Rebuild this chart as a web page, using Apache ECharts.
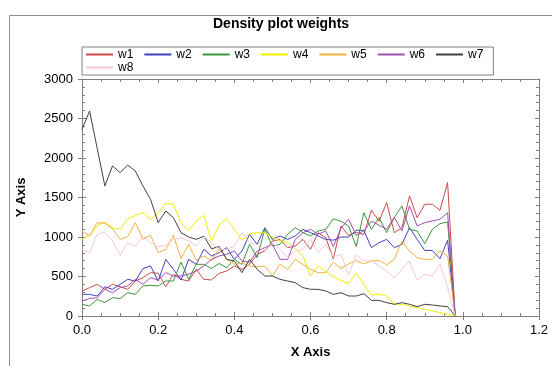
<!DOCTYPE html>
<html>
<head>
<meta charset="utf-8">
<script src="https://cdn.jsdelivr.net/npm/echarts@6/dist/echarts.min.js"></script>
<style>
  html, body { margin: 0; padding: 0; background: #fff; }
  #chart { width: 552px; height: 366px; }
</style>
</head>
<body>
<div id="chart"></div>
<script>
// x positions of the density estimate (step 0.02)
const xs = [0.00,0.02,0.04,0.06,0.08,0.10,0.12,0.14,0.16,0.18,0.20,0.22,0.24,0.26,0.28,0.30,0.32,0.34,0.36,0.38,
  0.40,0.42,0.44,0.46,0.48,0.50,0.52,0.54,0.56,0.58,0.60,0.62,0.64,0.66,0.68,0.70,0.72,0.74,0.76,0.78,
  0.80,0.82,0.84,0.86,0.88,0.90,0.92,0.94,0.96,0.98];

const w1 = [316,359,401,338,401,371,338,443,485,549,540,371,528,464,443,591,464,456,540,570,633,591,654,780,823,949,970,865,886,970,844,1055,992,725,1139,1020,1060,1030,1340,1200,1435,1055,1118,1520,1245,1414,1414,1338,1688,0];
const w2 = [274,274,253,371,338,401,464,443,600,633,443,717,591,456,717,654,844,760,802,865,717,823,1034,907,1118,970,1013,970,1013,1097,1055,1013,970,960,1000,1000,1085,1085,865,928,970,865,907,1118,970,830,830,726,958,0];
const w3 = [148,127,211,169,232,221,295,274,380,388,380,443,443,684,464,654,654,600,665,612,717,654,907,738,1097,886,907,1034,1118,1055,1013,1076,1097,1230,1200,1140,880,1308,1097,1245,1055,1245,1393,1097,1076,916,1097,1169,1190,0];
const w4 = [971,1021,1139,1190,1118,1097,1224,1274,1308,1224,1308,1426,1414,1182,1076,1203,1274,950,1150,1230,1100,960,1040,1055,1055,1000,950,930,850,760,506,633,560,500,450,410,545,400,265,274,253,148,148,127,105,84,63,42,21,0];
const w5 = [1076,1013,1182,1173,1106,971,1004,1182,971,1021,802,844,1021,726,908,709,760,700,850,717,654,670,633,620,633,506,654,591,717,654,591,549,549,680,600,660,700,660,696,705,646,717,949,823,738,717,717,823,760,0];
const w6 = [190,221,232,338,295,359,380,464,401,485,456,549,506,506,528,570,633,717,760,780,823,696,680,823,865,907,717,717,970,1055,1097,1034,1076,880,1110,1224,1020,1080,1200,1150,1097,1250,1076,1393,1140,1182,1203,1224,1308,0];
const w7 = [2363,2595,2120,1646,1899,1815,1911,1836,1646,1477,1182,1329,1245,1055,1000,970,1010,850,880,717,696,549,717,591,506,506,464,443,422,359,338,338,317,274,295,253,253,283,198,198,169,148,169,148,118,148,139,127,118,0];
const w8 = [844,802,1034,1063,950,768,928,886,1013,928,878,895,971,992,950,886,1004,930,844,844,886,1055,928,907,823,928,844,738,823,844,970,802,907,750,780,520,770,700,696,633,570,485,591,696,452,527,506,654,359,0];

const seriesNames = ['w1','w2','w3','w4','w5','w6','w7','w8'];
const seriesData = [w1, w2, w3, w4, w5, w6, w7, w8];
const seriesColors = ['#d04848','#4040c0','#3c963c','#f2ee00','#f0b040','#a050b0','#404040','#f5c8d2'];

const chart = echarts.init(document.getElementById('chart'));

const axisGray = '#808080';
const font = 'Arial, "Liberation Sans", sans-serif';

const xBase = { type: 'value', min: 0, max: 1.2, interval: 0.2, gridIndex: 0 };
const yBase = { type: 'value', min: 0, max: 3000, interval: 500, gridIndex: 0 };

const option = {
  animation: false,
  backgroundColor: '#fff',
  graphic: [{
    type: 'rect',
    left: 7, top: 13,
    shape: { width: 600, height: 400 },
    style: { fill: 'none', stroke: '#909090', lineWidth: 1 },
    silent: true
  }],
  title: {
    text: 'Density plot weights',
    left: 208,
    top: 12,
    textStyle: { fontFamily: font, fontSize: 14, fontWeight: 'bold', color: '#000' }
  },
  legend: {
    data: seriesNames,
    left: 82,
    top: 47,
    width: 440,
    padding: [1, 0, 1, 3],
    itemGap: 0,
    itemWidth: 27,
    itemHeight: 10,
    itemStyle: { opacity: 0 },
    borderColor: axisGray,
    borderWidth: 1,
    textStyle: { fontFamily: font, fontSize: 12, color: '#000', lineHeight: 13, padding: [0, 10, 0, 0] }
  },
  grid: { left: 82, right: 13, top: 79, bottom: 50, containLabel: false },
  xAxis: [
    Object.assign({}, xBase, {
      position: 'bottom',
      name: 'X Axis',
      nameLocation: 'middle',
      nameGap: 30,
      nameTextStyle: { fontFamily: font, fontSize: 13, fontWeight: 'bold', color: '#000' },
      axisLine: { onZero: false, lineStyle: { color: axisGray } },
      axisTick: { inside: false, length: 4, lineStyle: { color: axisGray } },
      axisLabel: { fontFamily: font, fontSize: 13, color: '#000', margin: 8, formatter: v => v.toFixed(1) },
      splitLine: { show: false }
    }),
    Object.assign({}, xBase, {
      position: 'bottom',
      axisLine: { show: false, onZero: false },
      axisTick: { inside: true, length: 4, lineStyle: { color: axisGray } },
      minorTick: { show: true, splitNumber: 4, length: 3, lineStyle: { color: axisGray } },
      axisLabel: { show: false },
      splitLine: { show: false }
    }),
    Object.assign({}, xBase, {
      position: 'top',
      axisLine: { onZero: false, lineStyle: { color: axisGray } },
      axisTick: { inside: true, length: 4, lineStyle: { color: axisGray } },
      minorTick: { show: true, splitNumber: 4, length: 3, lineStyle: { color: axisGray } },
      axisLabel: { show: false },
      splitLine: { show: false }
    })
  ],
  yAxis: [
    Object.assign({}, yBase, {
      position: 'left',
      name: 'Y Axis',
      nameLocation: 'middle',
      nameGap: 54,
      nameTextStyle: { fontFamily: font, fontSize: 13, fontWeight: 'bold', color: '#000' },
      axisLine: { show: true, onZero: false, lineStyle: { color: axisGray } },
      axisTick: { show: true, inside: false, length: 4, lineStyle: { color: axisGray } },
      axisLabel: { fontFamily: font, fontSize: 13, color: '#000', margin: 9, formatter: v => String(v) },
      splitLine: { show: false }
    }),
    Object.assign({}, yBase, {
      position: 'left',
      axisLine: { show: false, onZero: false },
      axisTick: { show: true, inside: true, length: 4, lineStyle: { color: axisGray } },
      minorTick: { show: true, splitNumber: 5, length: 3, lineStyle: { color: axisGray } },
      axisLabel: { show: false },
      splitLine: { show: false }
    }),
    Object.assign({}, yBase, {
      position: 'right',
      axisLine: { show: true, onZero: false, lineStyle: { color: axisGray } },
      axisTick: { show: true, inside: true, length: 4, lineStyle: { color: axisGray } },
      minorTick: { show: true, splitNumber: 5, length: 3, lineStyle: { color: axisGray } },
      axisLabel: { show: false },
      splitLine: { show: false }
    })
  ],
  series: seriesNames.map((name, k) => ({
    name: name,
    type: 'line',
    xAxisIndex: 0,
    yAxisIndex: 0,
    symbol: 'none',
    color: seriesColors[k],
    lineStyle: { width: 1, color: seriesColors[k] },
    data: xs.map((x, i) => [x, seriesData[k][i]])
  }))
};

chart.setOption(option);
</script>
</body>
</html>
